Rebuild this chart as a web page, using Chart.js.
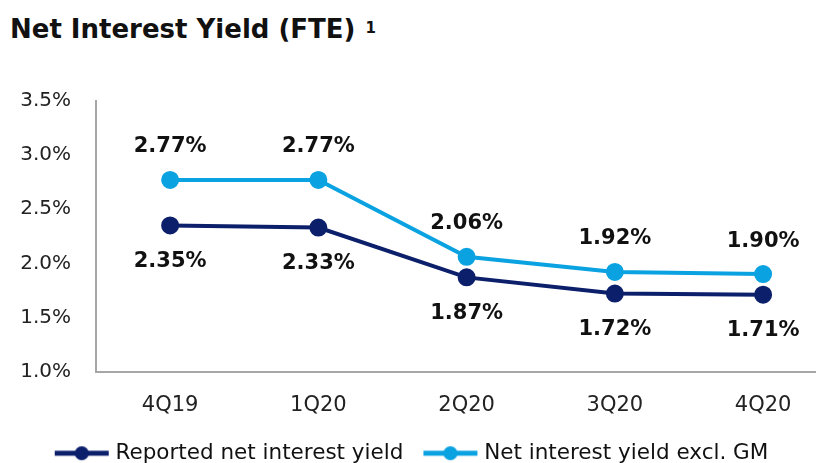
<!DOCTYPE html>
<html>
<head>
<meta charset="utf-8">
<script src="https://cdn.jsdelivr.net/npm/chart.js@4.4.1/dist/chart.umd.min.js"></script>
<style>
  html, body { margin: 0; padding: 0; background: #fff; overflow: hidden; }
  #wrap { position: relative; width: 826px; height: 463px; overflow: hidden; }
  #title {
    position: absolute; left: 10px; top: 14px; margin: 0; line-height: 32px;
    font: bold 26px "DejaVu Sans", sans-serif; color: #111;
  }
  #title sup { font-size: 15px; position: relative; top: 5px; margin-left: 10px; vertical-align: top; }
  #myChart { position: relative; left: 6px; }
</style>
</head>
<body>
<div id="wrap">
  <h1 id="title">Net Interest Yield (FTE)<sup>1</sup></h1>
  <canvas id="myChart" width="820" height="474"></canvas>
</div>
<script>
// quarters and yields (%)
const quarters = ["4Q19", "1Q20", "2Q20", "3Q20", "4Q20"];
const reported = [2.35, 2.33, 1.87, 1.72, 1.71];
const exclGM = [2.77, 2.77, 2.06, 1.92, 1.90];
const yTicks = [1.0, 1.5, 2.0, 2.5, 3.0, 3.5];

const darkBlue = "#0c1f6b";
const lightBlue = "#0aa2e0";
const font = "'DejaVu Sans', sans-serif";

// legend symbol: line with a dot
const legendIcon = (color) => {
  const c = document.createElement("canvas");
  c.width = 56;
  c.height = 16;
  const ctx = c.getContext("2d");
  ctx.strokeStyle = color;
  ctx.lineWidth = 5;
  ctx.beginPath();
  ctx.moveTo(1, 8);
  ctx.lineTo(55, 8);
  ctx.stroke();
  ctx.fillStyle = color;
  ctx.beginPath();
  ctx.arc(28, 8, 7, 0, Math.PI * 2);
  ctx.fill();
  return c;
};

// value labels above / below points
const valueLabels = {
  id: "valueLabels",
  afterDatasetsDraw(chart) {
    const ctx = chart.ctx;
    ctx.save();
    ctx.font = "bold 21px " + font;
    ctx.fillStyle = "#111";
    ctx.textAlign = "center";
    ctx.textBaseline = "middle";
    chart.data.datasets.forEach((ds, i) => {
      const meta = chart.getDatasetMeta(i);
      meta.data.forEach((pt, j) => {
        const dy = ds.labelPos == "above" ? -33 : 36;
        ctx.fillText(ds.data[j].y.toFixed(2) + "%", pt.x, pt.y + dy);
      });
    });
    ctx.restore();
  },
};

const config = {
  type: "line",
  data: {
    datasets: [
      {
        label: "Reported net interest yield",
        data: reported.map((v, i) => ({ x: i, y: v })),
        borderColor: darkBlue,
        backgroundColor: darkBlue,
        borderWidth: 4,
        pointRadius: 7,
        labelPos: "below",
        icon: legendIcon(darkBlue),
      },
      {
        label: "Net interest yield excl. GM",
        data: exclGM.map((v, i) => ({ x: i, y: v })),
        borderColor: lightBlue,
        backgroundColor: lightBlue,
        borderWidth: 4,
        pointRadius: 7,
        labelPos: "above",
        icon: legendIcon(lightBlue),
      },
    ],
  },
  options: {
    responsive: false,
    animation: false,
    layout: { padding: { top: 101, right: 5, left: 0, bottom: 0 } },
    scales: {
      x: {
        type: "linear",
        min: -0.5,
        max: 4.35,
        grid: { display: false, drawTicks: false },
        border: { color: "#a6a6a6", width: 2 },
        afterBuildTicks: (scale) => {
          scale.ticks = quarters.map((q, i) => ({ value: i }));
        },
        ticks: {
          padding: 21,
          color: "#222",
          font: { family: font, size: 21 },
          callback: (v) => quarters[v],
        },
        afterFit: (scale) => {
          scale.height = 47;
        },
      },
      y: {
        min: 1.0,
        max: 3.5,
        grid: { display: false, drawTicks: false },
        border: { color: "#a6a6a6", width: 2 },
        afterBuildTicks: (scale) => {
          scale.ticks = yTicks.map((v) => ({ value: v }));
        },
        ticks: {
          padding: 25,
          color: "#222",
          font: { family: font, size: 20 },
          callback: (v) => v.toFixed(1) + "%",
        },
        afterFit: (scale) => {
          scale.width = 90;
        },
      },
    },
    plugins: {
      tooltip: { enabled: false },
      legend: {
        position: "bottom",
        labels: {
          usePointStyle: true,
          boxHeight: 16,
          pointStyleWidth: 46,
          padding: 24,
          color: "#111",
          font: { family: font, size: 21.5 },
          generateLabels: (chart) =>
            chart.data.datasets.map((ds, i) => ({
              text: ds.label,
              pointStyle: ds.icon,
              fillStyle: ds.borderColor,
              strokeStyle: ds.borderColor,
              lineWidth: 0,
              fontColor: "#111",
              datasetIndex: i,
            })),
        },
      },
    },
  },
  plugins: [valueLabels],
};

var myChart = new Chart(document.getElementById("myChart"), config);
</script>
</body>
</html>
